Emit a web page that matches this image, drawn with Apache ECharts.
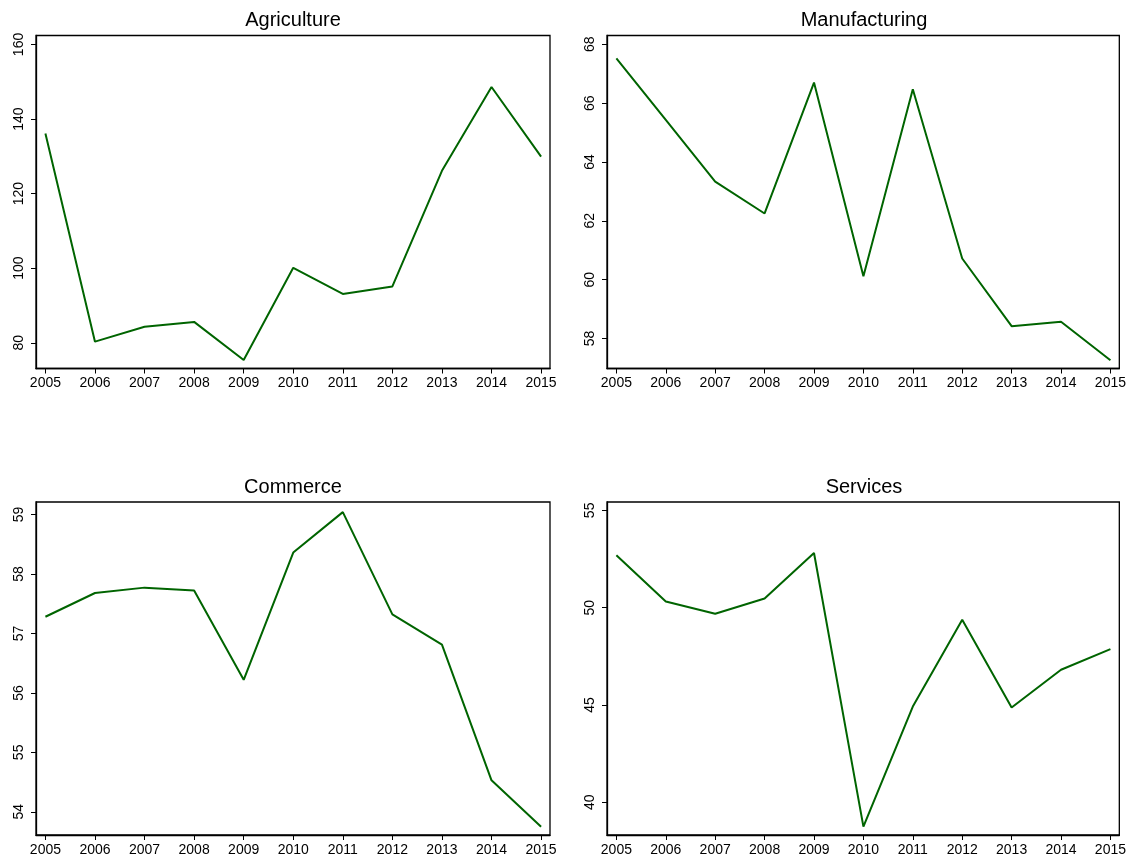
<!DOCTYPE html>
<html>
<head>
<meta charset="utf-8">
<title>Sector indices 2005-2015</title>
<script src="https://cdn.jsdelivr.net/npm/echarts@6/dist/echarts.min.js"></script>
<style>
  html, body { margin: 0; padding: 0; background: #fff; }
  #chart { width: 1129px; height: 857px; }
</style>
</head>
<body>
<div id="chart"></div>
<script>
// Years on the horizontal axis
const years = [2005, 2006, 2007, 2008, 2009, 2010, 2011, 2012, 2013, 2014, 2015];

// Sector series
const agriculture   = [136.1, 80.3, 84.3, 85.6, 75.4, 100.1, 93.1, 95.1, 126.1, 148.6, 129.9];
const manufacturing = [67.52, 65.43, 63.33, 62.25, 66.70, 60.12, 66.47, 60.72, 58.42, 58.57, 57.26];
const commerce      = [57.28, 57.68, 57.77, 57.72, 56.22, 58.36, 59.04, 57.32, 56.81, 54.53, 53.75];
const services      = [52.69, 50.32, 49.69, 50.47, 52.81, 38.75, 44.92, 49.38, 44.87, 46.81, 47.87];

// Y tick labels per panel
const agricultureTicks   = [80, 100, 120, 140, 160];
const manufacturingTicks = [58, 60, 62, 64, 66, 68];
const commerceTicks      = [54, 55, 56, 57, 58, 59];
const servicesTicks      = [40, 45, 50, 55];

const panelTitles = ['Agriculture', 'Manufacturing', 'Commerce', 'Services'];

const FONT = 'Liberation Sans, Arial, sans-serif';
const LINE_COLOR = '#006400';

const panels = [
  { name: panelTitles[0], values: agriculture,   ticks: agricultureTicks,   yMin: 73.1,  yMax: 162.4, grid: { left: 36,  top: 35.5, width: 514, height: 333 } },
  { name: panelTitles[1], values: manufacturing, ticks: manufacturingTicks, yMin: 56.98, yMax: 68.3,  grid: { left: 607, top: 35.5, width: 514, height: 333 } },
  { name: panelTitles[2], values: commerce,      ticks: commerceTicks,      yMin: 53.61, yMax: 59.21, grid: { left: 36,  top: 502,  width: 514, height: 333 } },
  { name: panelTitles[3], values: services,      ticks: servicesTicks,      yMin: 38.32, yMax: 55.43, grid: { left: 607, top: 502,  width: 514, height: 333 } }
];

const chart = echarts.init(document.getElementById('chart'), null, { renderer: 'canvas' });

const option = {
  backgroundColor: '#ffffff',
  animation: false,
  title: panels.map(p => ({
    text: p.name,
    left: p.grid.left + p.grid.width / 2,
    top: p.grid.top - 25,
    padding: 0,
    textAlign: 'center',
    textStyle: { fontFamily: FONT, fontSize: 20, fontWeight: 'normal', color: '#000' }
  })),
  grid: panels.map(p => ({
    left: p.grid.left, top: p.grid.top, width: p.grid.width, height: p.grid.height,
    show: true, borderColor: '#000', borderWidth: 1.3, backgroundColor: '#fff', containLabel: false
  })),
  xAxis: panels.map((p, i) => ({
    type: 'value',
    gridIndex: i,
    min: 2004.81,
    max: 2015.18,
    splitLine: { show: false },
    axisLine: { show: true, onZero: false, lineStyle: { color: '#000', width: 1.3 } },
    axisTick: { show: true, length: 5, customValues: years, lineStyle: { color: '#000', width: 1 } },
    axisLabel: {
      customValues: years,
      formatter: v => String(v),
      margin: 8,
      fontFamily: FONT, fontSize: 14, color: '#000'
    }
  })),
  yAxis: panels.map((p, i) => ({
    type: 'value',
    gridIndex: i,
    min: p.yMin,
    max: p.yMax,
    splitLine: { show: false },
    axisLine: { show: true, onZero: false, lineStyle: { color: '#000', width: 1.3 } },
    axisTick: { show: true, length: 5, customValues: p.ticks, lineStyle: { color: '#000', width: 1 } },
    axisLabel: {
      customValues: p.ticks,
      formatter: v => String(v),
      rotate: 90,
      margin: 10,
      fontFamily: FONT, fontSize: 14, color: '#000'
    }
  })),
  series: panels.map((p, i) => ({
    type: 'line',
    name: p.name,
    xAxisIndex: i,
    yAxisIndex: i,
    data: years.map((y, k) => [y, p.values[k]]),
    showSymbol: false,
    symbol: 'none',
    lineStyle: { color: LINE_COLOR, width: 2 },
    silent: true
  }))
};

chart.setOption(option);
</script>
</body>
</html>
